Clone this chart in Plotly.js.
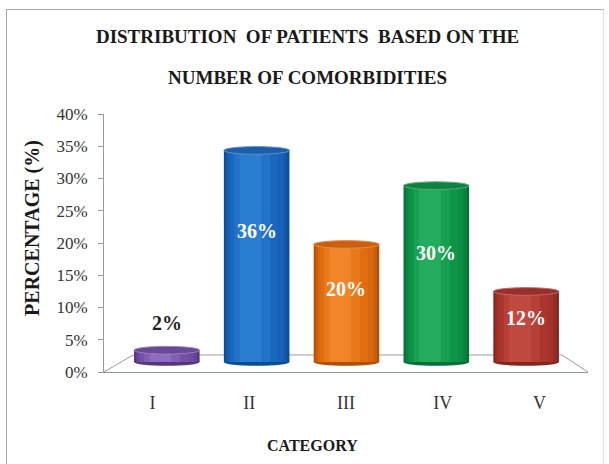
<!DOCTYPE html>
<html>
<head>
<meta charset="utf-8">
<script src="https://cdn.plot.ly/plotly-3.0.1.min.js"></script>
<style>
  html, body { margin: 0; padding: 0; background: #ffffff; }
  #wrap { position: relative; width: 609px; height: 464px; overflow: hidden; }
  #chart { position: absolute; left: 0; top: 0; width: 609px; height: 464px; }
  #frame {
    position: absolute; left: 6px; top: 9px; width: 596px; height: 470px;
    border-left: 1px solid #a9a9a9; border-top: 1px solid #a9a9a9;
    border-right: 1px solid #dedede; pointer-events: none;
  }
</style>
</head>
<body>
<div id="wrap">
  <div id="chart"></div>
  <div id="frame"></div>
</div>
<script>
// Share of patients by number of comorbidities
const categories = ['I', 'II', 'III', 'IV', 'V'];
const percentages = [2, 36, 20, 30, 12];
const yTickValues = [0, 5, 10, 15, 20, 25, 30, 35, 40];
const yTickLabels = ['0%', '5%', '10%', '15%', '20%', '25%', '30%', '35%', '40%'];

const titleLine1 = 'DISTRIBUTION&nbsp; OF PATIENTS&nbsp; BASED ON THE';
const titleLine2 = 'NUMBER OF COMORBIDITIES';
const yTitle = 'PERCENTAGE (%)';
const xTitle = 'CATEGORY';

const SERIF = '"Liberation Serif", "Times New Roman", Times, serif';

// cylinder colours: edge shade, body, highlight, top face
const palette = [
  { edge: '#553680', mid: '#7651A6', light: '#8E6DBF', top: '#6A4899' },
  { edge: '#0B4C96', mid: '#1967BE', light: '#2A7ED2', top: '#1A5DAA' },
  { edge: '#B04F08', mid: '#E26D0E', light: '#F08628', top: '#CC600C' },
  { edge: '#07703A', mid: '#0E9446', light: '#22AC5B', top: '#0C8440' },
  { edge: '#862420', mid: '#AB352D', light: '#C04940', top: '#9A2E28' }
];

function mix(a, b, t) {
  const pa = [1, 3, 5].map(i => parseInt(a.substr(i, 2), 16));
  const pb = [1, 3, 5].map(i => parseInt(b.substr(i, 2), 16));
  const c = pa.map((v, i) => Math.round(v + (pb[i] - v) * t));
  return 'rgb(' + c.join(',') + ')';
}

// vertical strips layered on each bar to give a rounded, shaded body
const HALF = 0.365;
const strips = [
  { from: -HALF, to: HALF, color: p => p.edge },
  { from: -0.345, to: 0.34, color: p => mix(p.edge, p.mid, 0.45) },
  { from: -0.32, to: 0.30, color: p => mix(p.edge, p.mid, 0.8) },
  { from: -0.29, to: 0.24, color: p => p.mid },
  { from: -0.25, to: 0.15, color: p => mix(p.mid, p.light, 0.5) },
  { from: -0.19, to: 0.05, color: p => p.light }
];

const traces = strips.map(s => ({
  type: 'bar',
  x: categories,
  y: percentages,
  xaxis: 'x',
  yaxis: 'y2',
  offset: s.from,
  width: s.to - s.from,
  marker: { color: palette.map(s.color), line: { width: 0 } },
  hoverinfo: 'skip',
  showlegend: false
}));

// front axes: an empty trace so the labelled axes get drawn
traces.push({
  type: 'scatter', mode: 'markers',
  x: categories.map((c, i) => i), y: categories.map(() => 0),
  xaxis: 'x2', yaxis: 'y',
  marker: { opacity: 0, size: 1 },
  hoverinfo: 'skip', showlegend: false, cliponaxis: true
});

const CAP = 0.65; // half height of the elliptical caps, in axis units
const shapes = [
  // floor of the chart
  {
    type: 'path', xref: 'paper', yref: 'paper', layer: 'below',
    path: 'M0,0 L0.06,0.066 L0.946,0.066 L1,0',
    line: { color: '#9a9a9a', width: 1 }, fillcolor: 'rgba(0,0,0,0)'
  }
];
percentages.forEach((v, i) => {
  const p = palette[i];
  shapes.push({
    type: 'circle', xref: 'x', yref: 'y2', layer: 'below',
    x0: i - HALF, x1: i + HALF, y0: -CAP, y1: CAP,
    fillcolor: p.edge, line: { width: 0 }
  });
  shapes.push({
    type: 'circle', xref: 'x', yref: 'y2', layer: 'above',
    x0: i - HALF, x1: i + HALF, y0: v - CAP, y1: v + CAP,
    fillcolor: p.top, line: { color: mix(p.top, '#ffffff', 0.3), width: 1 }
  });
});

const LABEL_POS = 0.62;
const annotations = percentages.map((v, i) => {
  const inside = v >= 5;
  return {
    xref: 'x', yref: 'y2', x: categories[i],
    y: inside ? v * LABEL_POS : v,
    xanchor: 'center',
    yanchor: inside ? 'middle' : 'bottom',
    yshift: inside ? 0 : 14,
    text: v + '%', showarrow: false,
    font: { family: SERIF, size: 20, color: inside ? '#ffffff' : '#222222', weight: 'bold' }
  };
});
annotations.push({
  xref: 'paper', yref: 'paper', x: -0.148, y: 0.56,
  xanchor: 'center', yanchor: 'middle',
  text: yTitle, textangle: -90, showarrow: false,
  font: { family: SERIF, size: 20, color: '#1a1a1a', weight: 'bold' }
});
annotations.push({
  xref: 'paper', yref: 'paper', x: 0.43, y: -0.285,
  xanchor: 'center', yanchor: 'middle',
  text: xTitle, showarrow: false,
  font: { family: SERIF, size: 16, color: '#1a1a1a', weight: 'bold' }
});

const layout = {
  width: 609,
  height: 464,
  margin: { l: 104, r: 21, t: 114, b: 92 },
  paper_bgcolor: '#ffffff',
  plot_bgcolor: 'rgba(0,0,0,0)',
  barmode: 'overlay',
  title: {
    text: titleLine1,
    xref: 'container', x: 0.505,
    yref: 'container', y: 1 - 36 / 464, yanchor: 'middle',
    font: { family: SERIF, size: 19, color: '#1a1a1a', weight: 'bold' },
    subtitle: {
      text: titleLine2,
      font: { family: SERIF, size: 19, color: '#1a1a1a', weight: 'bold' }
    }
  },
  // axis carrying the cylinders (set back in depth)
  xaxis: {
    domain: [0.037, 0.965], anchor: 'y2', type: 'category',
    range: [-0.5, 4.5], visible: false, fixedrange: true
  },
  yaxis2: {
    domain: [0.0047, 0.95], anchor: 'x', range: [-1.5, 40],
    visible: false, fixedrange: true
  },
  // front axes with the labels
  xaxis2: {
    domain: [0, 1], anchor: 'y', type: 'linear', range: [-0.5, 4.5],
    tickvals: categories.map((c, i) => i), ticktext: categories,
    showline: true, linecolor: '#8c96a8', linewidth: 1,
    ticks: 'outside', ticklen: 14, tickcolor: 'rgba(0,0,0,0)',
    showgrid: false, zeroline: false,
    tickfont: { family: SERIF, size: 18, color: '#333333' },
    fixedrange: true
  },
  yaxis: {
    domain: [0, 1], anchor: 'x2', range: [0, 40],
    tickvals: yTickValues, ticktext: yTickLabels,
    showline: true, linecolor: '#9a9a9a', linewidth: 1,
    ticks: 'outside', ticklen: 5, tickcolor: '#9a9a9a',
    ticklabelstandoff: 7,
    showgrid: false, zeroline: false,
    tickfont: { family: SERIF, size: 17, color: '#333333' },
    fixedrange: true
  },
  shapes: shapes,
  annotations: annotations
};

Plotly.newPlot('chart', traces, layout, { displayModeBar: false, staticPlot: true });
</script>
</body>
</html>
